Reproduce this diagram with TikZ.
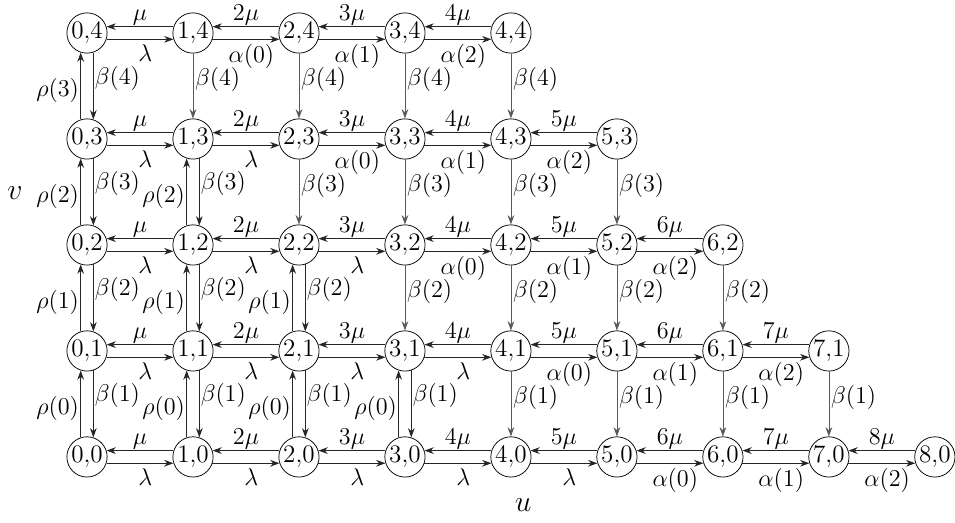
\RequirePackage{fix-cm}
\documentclass[tikz,border=0pt]{standalone}
\usetikzlibrary{arrows.meta}

\begin{document}
\begin{tikzpicture}[font=\fontsize{13.5}{16}\selectfont,
  state/.style={draw,circle,minimum size=7.6mm,inner sep=0pt},
  flow/.style={-{Stealth[length=5pt,width=3.6pt]},line width=0.6pt,black!85},
  drop/.style={-{Stealth[length=5pt,width=3.6pt]},line width=0.4pt,black!65},
  lab/.style={inner sep=1pt,text=black,font=\fontsize{13}{16}\selectfont},
  axis/.style={font=\fontsize{16}{18}\selectfont}]
\useasboundingbox (-1.642,-1.245) rectangle (16.38,8.623);

% states (u,v)
\foreach \cv in {0,...,4}{
  \pgfmathtruncatemacro\last{8-\cv}
  \foreach \cu in {0,...,\last}
    \node[state] (s\cu\cv) at (2*\cu,2*\cv) {$\cu{,}\cv$};
}

% horizontal transitions
\foreach \cv in {0,...,4}{
  \pgfmathtruncatemacro\last{7-\cv}
  \foreach \cu in {0,...,\last}{
    \pgfmathtruncatemacro\nx{\cu+1}
    \pgfmathtruncatemacro\k{\nx+\cv-6}
    \ifnum\nx=1 \def\srv{\mu}\else\edef\srv{\nx\noexpand\mu}\fi
    \ifnum\k<0 \def\arr{\lambda}\else\edef\arr{\noexpand\alpha(\k)}\fi
    \draw[flow] (s\nx\cv.162) -- node[above,lab,inner sep=0.6pt] {$\srv$} (s\cu\cv.18);
    \draw[flow] (s\cu\cv.-18) -- node[below,lab,inner sep=2.5pt,pos=0.58] {$\arr$} (s\nx\cv.198);
  }
}

% vertical transitions
\foreach \cv in {1,...,4}{
  \pgfmathtruncatemacro\lo{\cv-1}
  \pgfmathtruncatemacro\last{8-\cv}
  \foreach \cu in {0,...,\last}{
    \ifnum\cu>\numexpr4-\cv\relax
      \draw[drop] (s\cu\cv) -- node[right,lab,pos=0.4] {$\beta(\cv)$} (s\cu\lo);
    \else
      \draw[flow] (s\cu\lo.108) -- node[left,lab,inner sep=0.6pt,pos=0.44] {$\rho(\lo)$} (s\cu\cv.252);
      \draw[flow] (s\cu\cv.288) -- node[right,lab,inner sep=0.5pt,pos=0.38] {$\beta(\cv)$} (s\cu\lo.72);
    \fi
  }
}

\node[axis] (vaxis) at (-1.36,4.98) {$v$};
\node[axis] (uaxis) at (8.23,-0.9) {$u$};
\end{tikzpicture}
\end{document}
